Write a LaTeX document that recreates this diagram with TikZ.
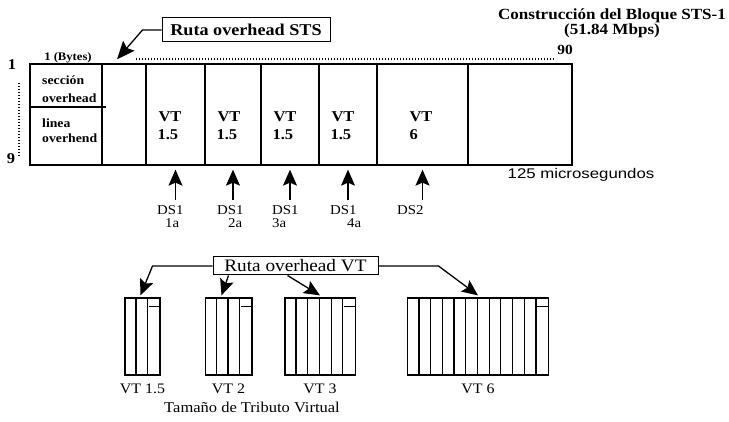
\documentclass[tikz,border=0pt]{standalone}
\usepackage{fontspec}
\setmainfont[FakeStretch=1.1]{Liberation Serif}
\setsansfont[FakeStretch=1.2]{Liberation Sans}
\usepackage{tikz}
\usetikzlibrary{arrows.meta, positioning}
\tikzset{
  cell/.style={rectangle, draw, line width=1.3pt, minimum height=101pt, inner sep=0pt},
  grp/.style={rectangle, draw, line width=1.2pt, minimum height=77pt, inner sep=0pt},
  routebox/.style={rectangle, draw, line width=1pt, inner sep=0pt},
  hdr/.style={font=\bfseries\fontsize{15.5}{12.5}\selectfont, inner sep=0pt, align=center},
  small/.style={font=\bfseries\fontsize{12.5}{12.5}\selectfont, inner sep=0pt, anchor=west},
  vtlabel/.style={font=\bfseries\fontsize{15}{15}\selectfont, inner sep=0pt, anchor=west},
  dslabel/.style={font=\fontsize{13.5}{13}\selectfont, inner sep=0pt, align=left, anchor=north west},
  sizelabel/.style={font=\fontsize{14.5}{14.5}\selectfont, inner sep=0pt},
  arrow/.style={-{Stealth[length=16pt, width=14pt, inset=3pt]}, line width=1.3pt},
  bigarrow/.style={-{Stealth[length=18pt, width=15pt, inset=3pt]}, line width=1.3pt},
  dotline/.style={line width=1.4pt, dash pattern=on 1.3pt off 1.7pt}
}

\begin{document}
\begin{tikzpicture}[x=1pt, y=-1pt]
  \useasboundingbox (0,0) rectangle (729,422);

  % titulo
  \node[hdr] (title) at (612,23) {Construcción del Bloque STS-1\\(51.84 Mbps)};

  % bloque STS-1
  \node[cell, minimum width=72pt] (ovh) at (66,114.5) {};
  \node[cell, minimum width=44pt] (poh) at (124,114.5) {};
  \node[cell, minimum width=59pt] (vta) at (175.5,114.5) {};
  \node[cell, minimum width=56pt] (vtb) at (233,114.5) {};
  \node[cell, minimum width=58pt] (vtc) at (290,114.5) {};
  \node[cell, minimum width=58pt] (vtd) at (348,114.5) {};
  \node[cell, minimum width=91pt] (vte) at (422.5,114.5) {};
  \node[cell, minimum width=104pt] (spare) at (520,114.5) {};
  \draw[line width=1.3pt] (ovh.west |- 0,107) -- (106,107);

  \node[small] at (42,80) {sección};
  \node[small] at (42,98) {overhead};
  \node[small] at (42,123) {linea};
  \node[small] at (42,138) {overhend};

  \foreach \c in {vta, vtb, vtc, vtd} {
    \node[vtlabel] at ([xshift=13pt]\c.west |- 0,117) {VT};
    \node[vtlabel] at ([xshift=12pt]\c.west |- 0,135) {1.5};
  }
  \node[vtlabel] at ([xshift=33pt]vte.west |- 0,117) {VT};
  \node[vtlabel] at ([xshift=33pt]vte.west |- 0,135) {6};

  % escala
  \node[small, anchor=center] (row1) at (12,65) {\fontsize{15}{15}\selectfont 1};
  \node[small, anchor=center] (row9) at (11,159) {\fontsize{15}{15}\selectfont 9};
  \node[small, anchor=center] (bytes) at (68,58) {\fontsize{11.5}{11.5}\selectfont 1 (Bytes)};
  \node[small, anchor=center] (col90) at (565,50) {\fontsize{14}{14}\selectfont 90};
  \draw[dotline] (19,83) -- (19,156);
  \draw[dotline] (136,59) -- (555,59);

  \node[routebox, minimum width=168pt, minimum height=24pt,
    font=\bfseries\fontsize{16.5}{16.5}\selectfont] (rsts) at (246,30) {Ruta overhead STS};
  \draw[bigarrow] (rsts.west) -- ++(-19,0) -- ([xshift=-7pt, yshift=4pt]poh.north);

  \node[font=\sffamily\fontsize{14}{14}\selectfont, inner sep=0pt] (usec) at (581,175) {125 microsegundos};

  % tributarios
  \node[dslabel] (ds1a) at (157,205) {DS1\\\hspace*{8pt}1a};
  \node[dslabel] (ds1b) at (217,205) {DS1\\\hspace*{11pt}2a};
  \node[dslabel] (ds1c) at (272,205) {DS1\\3a};
  \node[dslabel] (ds1d) at (330,205) {DS1\\\hspace*{17pt}4a};
  \node[dslabel] (ds2) at (397,205) {DS2};
  \foreach \c/\d in {vta/ds1a, vtb/ds1b, vtc/ds1c, vtd/ds1d, vte/ds2}
    \draw[arrow, shorten <=5pt] (\c.south |- \d.north) -- ([yshift=-4pt]\c.south);

  % tamanos de VT
  \node[routebox, minimum width=165pt, minimum height=18pt,
    font=\fontsize{17.5}{17.5}\selectfont] (rvt) at (295.5,266) {Ruta overhead VT};

  \foreach \nm/\cx/\n/\txt in {g15/142.5/3/VT 1.5, g2/228.5/4/VT 2, g3/320/6/VT 3, g6/478/12/VT 6} {
    \node[grp, minimum width=\n*11.7pt] (\nm) at (\cx,336.5) {};
    \pgfmathtruncatemacro\m{\n-1}
    \foreach \i in {1,...,\m}
      \draw[line width=1.2pt] ([xshift=\i*11.7pt]\nm.north west) -- ([xshift=\i*11.7pt]\nm.south west);
    \draw[line width=1pt] ([xshift=-11.7pt, yshift=-9pt]\nm.north east) -- ([yshift=-9pt]\nm.north east);
    \node[sizelabel, below=8pt of \nm] {\txt};
  }

  \draw[arrow] (rvt.west) -- ++(-60,0) -- ([xshift=-2pt, yshift=2pt]g15.north);
  \draw[arrow] ([xshift=-67pt]rvt.south) -- ([xshift=-7pt, yshift=2pt]g2.north);
  \draw[arrow] ([xshift=-8pt]rvt.south) -- ([yshift=2pt]g3.north);
  \draw[arrow] (rvt.east) -- ++(60,0) -- ([xshift=0pt, yshift=2pt]g6.north);

  \node[sizelabel, font=\fontsize{15}{15}\selectfont] (vsize) at (252,407) {Tamaño de Tributo Virtual};
\end{tikzpicture}
\end{document}
